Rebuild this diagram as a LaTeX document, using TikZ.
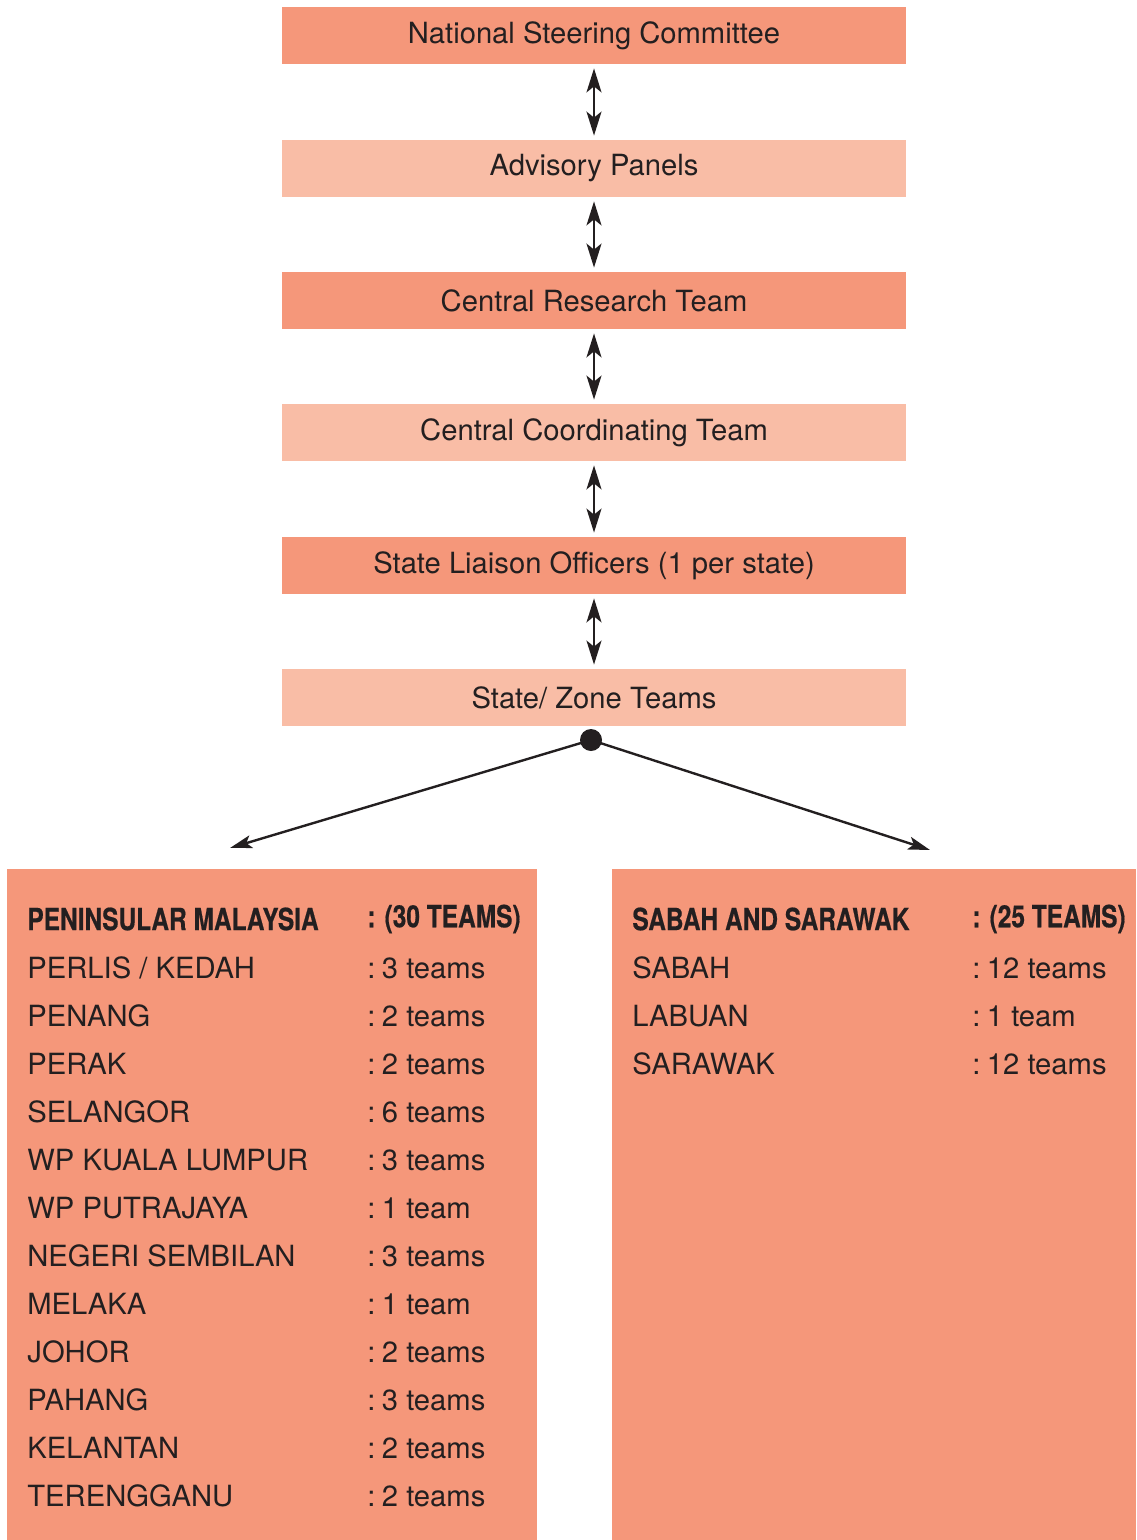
\documentclass[tikz,border=0pt]{standalone}
\usepackage{fontspec}
\setmainfont{TeX Gyre Heros}
\newfontfamily\headfont[FakeStretch=0.8,BoldFeatures={FakeBold=0.5}]{TeX Gyre Heros}
\usetikzlibrary{arrows.meta}
\definecolor{darksalmon}{HTML}{F5977A}
\definecolor{lightsalmon}{HTML}{F9BDA6}
\definecolor{ink}{HTML}{231F20}
\newcommand{\cgap}{:\hspace{3.2pt}}

\begin{document}
\begin{tikzpicture} [x=0.5pt,y=-0.5pt,
  level/.style={minimum width=312pt,minimum height=28.5pt,inner sep=0pt,font=\fontsize{14.6}{16}\selectfont,text=ink},
  link/.style={draw=ink,line width=1.1pt,{Stealth[length=12pt,width=7.5pt,inset=3pt]}-{Stealth[length=12pt,width=7.5pt,inset=3pt]}},
  branch/.style={draw=ink,line width=1.2pt,-{Stealth[length=11pt,width=6.5pt,inset=2.5pt]}},
  item/.style={anchor=west,inner sep=0pt,font=\fontsize{14.6}{16}\selectfont,text=ink},
  head/.style={item,font=\fontsize{15.3}{17}\selectfont\headfont\bfseries}]
\useasboundingbox (0,0) rectangle (1136,1540);
\draw (594,35.5)  node (nsc) [level,fill=darksalmon]  {National Steering Committee};
\draw (594,168.5) node (ap)  [level,fill=lightsalmon] {Advisory Panels};
\draw (594,300.5) node (crt) [level,fill=darksalmon]  {Central Research Team};
\draw (594,432.5) node (cct) [level,fill=lightsalmon] {Central Coordinating Team};
\draw (594,565.5) node (slo) [level,fill=darksalmon]  {State Liaison Officers (1 per state)};
\draw (594,697.5) node (szt) [level,fill=lightsalmon] {State/ Zone Teams};
\draw[link] ([yshift=-2pt]nsc.south) -- ([yshift=2pt]ap.north);
\draw[link] ([yshift=-2pt]ap.south)  -- ([yshift=2pt]crt.north);
\draw[link] ([yshift=-2pt]crt.south) -- ([yshift=2pt]cct.north);
\draw[link] ([yshift=-2pt]cct.south) -- ([yshift=2pt]slo.north);
\draw[link] ([yshift=-2pt]slo.south) -- ([yshift=2pt]szt.north);
% split point and the two regions
\fill[ink] (591,740) circle (5.5pt) coordinate (hub);
\coordinate (west) at (230,848);
\coordinate (east) at (930,850);
\draw[branch] (hub) -- (west);
\draw[branch] (hub) -- (east);
\fill[darksalmon] (7,869) rectangle (537,1540);
\fill[darksalmon] (612,869) rectangle (1136,1540);
% Peninsular Malaysia
\draw (27,919)   node (p0)  [head] {PENINSULAR MALAYSIA};
\draw (367,919)  node (p0n) [head] {: (30 TEAMS)};
\draw (27,968)   node (p1)  [item] {PERLIS / KEDAH};
\draw (367,968)  node (p1n) [item] {\cgap 3 teams};
\draw (27,1016)  node (p2)  [item] {PENANG};
\draw (367,1016) node (p2n) [item] {\cgap 2 teams};
\draw (27,1064)  node (p3)  [item] {PERAK};
\draw (367,1064) node (p3n) [item] {\cgap 2 teams};
\draw (27,1112)  node (p4)  [item] {SELANGOR};
\draw (367,1112) node (p4n) [item] {\cgap 6 teams};
\draw (27,1160)  node (p5)  [item] {WP KUALA LUMPUR};
\draw (367,1160) node (p5n) [item] {\cgap 3 teams};
\draw (27,1208)  node (p6)  [item] {WP PUTRAJAYA};
\draw (367,1208) node (p6n) [item] {\cgap 1 team};
\draw (27,1256)  node (p7)  [item] {NEGERI SEMBILAN};
\draw (367,1256) node (p7n) [item] {\cgap 3 teams};
\draw (27,1304)  node (p8)  [item] {MELAKA};
\draw (367,1304) node (p8n) [item] {\cgap 1 team};
\draw (27,1352)  node (p9)  [item] {JOHOR};
\draw (367,1352) node (p9n) [item] {\cgap 2 teams};
\draw (27,1400)  node (p10)  [item] {PAHANG};
\draw (367,1400) node (p10n) [item] {\cgap 3 teams};
\draw (27,1448)  node (p11)  [item] {KELANTAN};
\draw (367,1448) node (p11n) [item] {\cgap 2 teams};
\draw (27,1496)  node (p12)  [item] {TERENGGANU};
\draw (367,1496) node (p12n) [item] {\cgap 2 teams};
% Sabah and Sarawak
\draw (632,919)  node (s0)  [head] {SABAH AND SARAWAK};
\draw (972,919)  node (s0n) [head] {: (25 TEAMS)};
\draw (632,968)  node (s1)  [item] {SABAH};
\draw (972,968)  node (s1n) [item] {\cgap 12 teams};
\draw (632,1016) node (s2)  [item] {LABUAN};
\draw (972,1016) node (s2n) [item] {\cgap 1 team};
\draw (632,1064) node (s3)  [item] {SARAWAK};
\draw (972,1064) node (s3n) [item] {\cgap 12 teams};
\end{tikzpicture}
\end{document}
